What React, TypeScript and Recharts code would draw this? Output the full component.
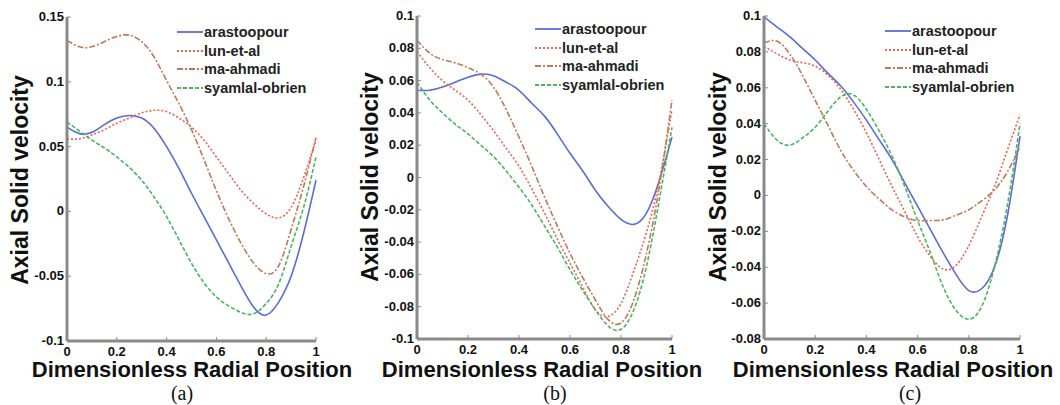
import { Line, LineChart, XAxis, YAxis } from 'recharts';

const xs = [0, 0.05, 0.1, 0.15, 0.2, 0.25, 0.3, 0.35, 0.4, 0.45, 0.5, 0.55, 0.6, 0.65, 0.7, 0.75, 0.8, 0.85, 0.9, 0.95, 1];

const seriesNames = ['arastoopour', 'lun-et-al', 'ma-ahmadi', 'syamlal-obrien'];

// panel (a)
const aAra = [0.065, 0.06, 0.061, 0.067, 0.072, 0.074, 0.072, 0.064, 0.05, 0.033, 0.014, -0.004, -0.022, -0.04, -0.058, -0.074, -0.08, -0.07, -0.05, -0.017, 0.024];
const aLun = [0.056, 0.056, 0.059, 0.063, 0.068, 0.072, 0.076, 0.078, 0.077, 0.072, 0.065, 0.055, 0.042, 0.029, 0.016, 0.006, -0.002, -0.005, 0.003, 0.026, 0.055];
const aMa = [0.132, 0.127, 0.127, 0.131, 0.135, 0.136, 0.131, 0.119, 0.101, 0.083, 0.063, 0.04, 0.016, -0.006, -0.025, -0.04, -0.048, -0.042, -0.014, 0.019, 0.057];
const aSyam = [0.069, 0.062, 0.055, 0.049, 0.042, 0.034, 0.024, 0.011, -0.004, -0.022, -0.04, -0.055, -0.066, -0.073, -0.078, -0.079, -0.071, -0.056, -0.027, 0.003, 0.042];

// panel (b)
const bAra = [0.054, 0.054, 0.056, 0.059, 0.062, 0.064, 0.063, 0.059, 0.054, 0.046, 0.038, 0.027, 0.015, 0.004, -0.008, -0.018, -0.026, -0.029, -0.022, -0.002, 0.025];
const bLun = [0.078, 0.068, 0.06, 0.054, 0.048, 0.039, 0.029, 0.018, 0.007, -0.007, -0.022, -0.038, -0.053, -0.068, -0.082, -0.086, -0.078, -0.058, -0.034, -0.002, 0.042];
const bMa = [0.085, 0.077, 0.073, 0.071, 0.068, 0.064, 0.056, 0.042, 0.025, 0.007, -0.012, -0.03, -0.047, -0.062, -0.076, -0.088, -0.09, -0.076, -0.047, -0.006, 0.048];
const bSyam = [0.059, 0.048, 0.04, 0.033, 0.027, 0.02, 0.013, 0.004, -0.006, -0.017, -0.03, -0.043, -0.057, -0.07, -0.082, -0.092, -0.094, -0.082, -0.055, -0.014, 0.031];

// panel (c)
const cAra = [0.0996, 0.094, 0.0885, 0.082, 0.0755, 0.068, 0.061, 0.052, 0.042, 0.031, 0.02, 0.007, -0.006, -0.019, -0.032, -0.044, -0.053, -0.052, -0.04, -0.012, 0.033];
const cLun = [0.083, 0.079, 0.0755, 0.074, 0.072, 0.067, 0.059, 0.048, 0.035, 0.02, 0.005, -0.009, -0.023, -0.034, -0.041, -0.039, -0.028, -0.012, 0.005, 0.025, 0.045];
const cMa = [0.085, 0.086, 0.079, 0.067, 0.053, 0.039, 0.025, 0.014, 0.005, -0.002, -0.008, -0.012, -0.014, -0.014, -0.0136, -0.011, -0.008, -0.003, 0.003, 0.013, 0.027];
const cSyam = [0.04, 0.031, 0.028, 0.032, 0.038, 0.047, 0.055, 0.056, 0.048, 0.036, 0.022, 0.005, -0.014, -0.032, -0.051, -0.064, -0.069, -0.062, -0.04, -0.006, 0.04];

const xTicks = [0, 0.2, 0.4, 0.6, 0.8, 1];
const yTicksA = [-0.1, -0.05, 0, 0.05, 0.1, 0.15];
const yTicksB = [-0.1, -0.08, -0.06, -0.04, -0.02, 0, 0.02, 0.04, 0.06, 0.08, 0.1];
const yTicksC = [-0.08, -0.06, -0.04, -0.02, 0, 0.02, 0.04, 0.06, 0.08, 0.1];

const styles = [
  { color: '#5a6dd2', dash: undefined },
  { color: '#f0604c', dash: '2 2' },
  { color: '#c27858', dash: '6 2 2 2' },
  { color: '#4cb45e', dash: '4 2' },
];

const sans = '"Liberation Sans", Arial, sans-serif';
const axisGray = '#8a8a8a';

function build(a: number[], b: number[], c: number[], d: number[]) {
  return xs.map((x, i) => ({ x, s0: a[i], s1: b[i], s2: c[i], s3: d[i] }));
}

function XTick(props: any) {
  const { x, y, payload } = props;
  return (
    <g>
      <line x1={x} y1={y} x2={x} y2={y - 4} stroke={axisGray} strokeWidth={1} />
      <text x={x} y={y + 15} textAnchor="middle" fontFamily={sans} fontWeight={700} fontSize={13} fill="#111">
        {String(payload.value)}
      </text>
    </g>
  );
}

function YTick(props: any) {
  const { x, y, payload } = props;
  return (
    <g>
      <line x1={x} y1={y} x2={x + 4} y2={y} stroke={axisGray} strokeWidth={1} />
      <text x={x - 3} y={y + 4} textAnchor="end" fontFamily={sans} fontWeight={700} fontSize={13} fill="#111">
        {String(payload.value)}
      </text>
    </g>
  );
}

interface PanelProps {
  left: number;
  width: number;
  margin: { top: number; right: number; left: number; bottom: number };
  data: any[];
  yDomain: [number, number];
  yTicks: number[];
  yLabelX: number;
  yLabelY: number;
  xLabelX: number;
  caption: string;
  captionX: number;
  legendX: number;
  legendY: number;
}

function Panel(p: PanelProps) {
  return (
    <div style={{ position: 'absolute', left: p.left, top: 0, width: p.width, height: 405 }}>
      <LineChart width={p.width} height={405} data={p.data} margin={p.margin}>
        <XAxis
          dataKey="x"
          type="number"
          domain={[0, 1]}
          ticks={xTicks}
          height={30}
          tickSize={0}
          tickMargin={0}
          tickLine={false}
          axisLine={{ stroke: axisGray, strokeWidth: 3 }}
          tick={<XTick />}
        />
        <YAxis
          type="number"
          domain={p.yDomain}
          ticks={p.yTicks}
          width={60}
          tickSize={0}
          tickMargin={0}
          tickLine={false}
          axisLine={{ stroke: axisGray, strokeWidth: 3 }}
          tick={<YTick />}
        />
        {styles.map((s, i) => (
          <Line
            key={i}
            type="natural"
            dataKey={'s' + i}
            stroke={s.color}
            strokeWidth={1.6}
            strokeDasharray={s.dash}
            dot={false}
            isAnimationActive={false}
          />
        ))}
      </LineChart>
      <div
        style={{
          position: 'absolute',
          left: p.yLabelX,
          top: p.yLabelY,
          transform: 'translate(-50%, -50%) rotate(-90deg)',
          whiteSpace: 'nowrap',
          fontFamily: sans,
          fontWeight: 700,
          fontSize: 23,
          color: '#111',
        }}
      >
        Axial Solid velocity
      </div>
      <div
        style={{
          position: 'absolute',
          left: p.xLabelX,
          top: 370,
          transform: 'translate(-50%, -50%)',
          whiteSpace: 'nowrap',
          fontFamily: sans,
          fontWeight: 700,
          fontSize: 22,
          color: '#111',
        }}
      >
        Dimensionless Radial Position
      </div>
      <div
        style={{
          position: 'absolute',
          left: p.captionX,
          top: 393,
          transform: 'translate(-50%, -50%)',
          whiteSpace: 'nowrap',
          fontFamily: '"Liberation Serif", "Times New Roman", serif',
          fontSize: 20,
          color: '#111',
        }}
      >
        {p.caption}
      </div>
      <div style={{ position: 'absolute', left: p.legendX, top: p.legendY }}>
        {seriesNames.map((name, i) => (
          <div key={name} style={{ display: 'flex', alignItems: 'center', height: 18.5 }}>
            <svg width={26} height={6} style={{ marginRight: 1 }}>
              <line x1={0} y1={3} x2={26} y2={3} stroke={styles[i].color} strokeWidth={1.8} strokeDasharray={styles[i].dash} />
            </svg>
            <span style={{ fontFamily: sans, fontWeight: 700, fontSize: 14.5, color: '#222', lineHeight: '18px' }}>{name}</span>
          </div>
        ))}
      </div>
    </div>
  );
}

export default function App() {
  return (
    <div style={{ position: 'fixed', left: 0, top: 0, width: 1060, height: 405, background: '#fff', overflow: 'hidden' }}>
      <Panel
        left={0}
        width={350}
        margin={{ top: 17, right: 34, left: 7, bottom: 34 }}
        data={build(aAra, aLun, aMa, aSyam)}
        yDomain={[-0.1, 0.15]}
        yTicks={yTicksA}
        yLabelX={20}
        yLabelY={180}
        xLabelX={192}
        caption="(a)"
        captionX={182}
        legendX={177}
        legendY={23}
      />
      <Panel
        left={350}
        width={350}
        margin={{ top: 16, right: 28, left: 7, bottom: 36 }}
        data={build(bAra, bLun, bMa, bSyam)}
        yDomain={[-0.1, 0.1]}
        yTicks={yTicksB}
        yLabelX={20}
        yLabelY={177}
        xLabelX={192}
        caption="(b)"
        captionX={205}
        legendX={185}
        legendY={20}
      />
      <Panel
        left={700}
        width={360}
        margin={{ top: 16, right: 40, left: 4, bottom: 36 }}
        data={build(cAra, cLun, cMa, cSyam)}
        yDomain={[-0.08, 0.1]}
        yTicks={yTicksC}
        yLabelX={18}
        yLabelY={177}
        xLabelX={193}
        caption="(c)"
        captionX={210}
        legendX={185}
        legendY={22}
      />
    </div>
  );
}
